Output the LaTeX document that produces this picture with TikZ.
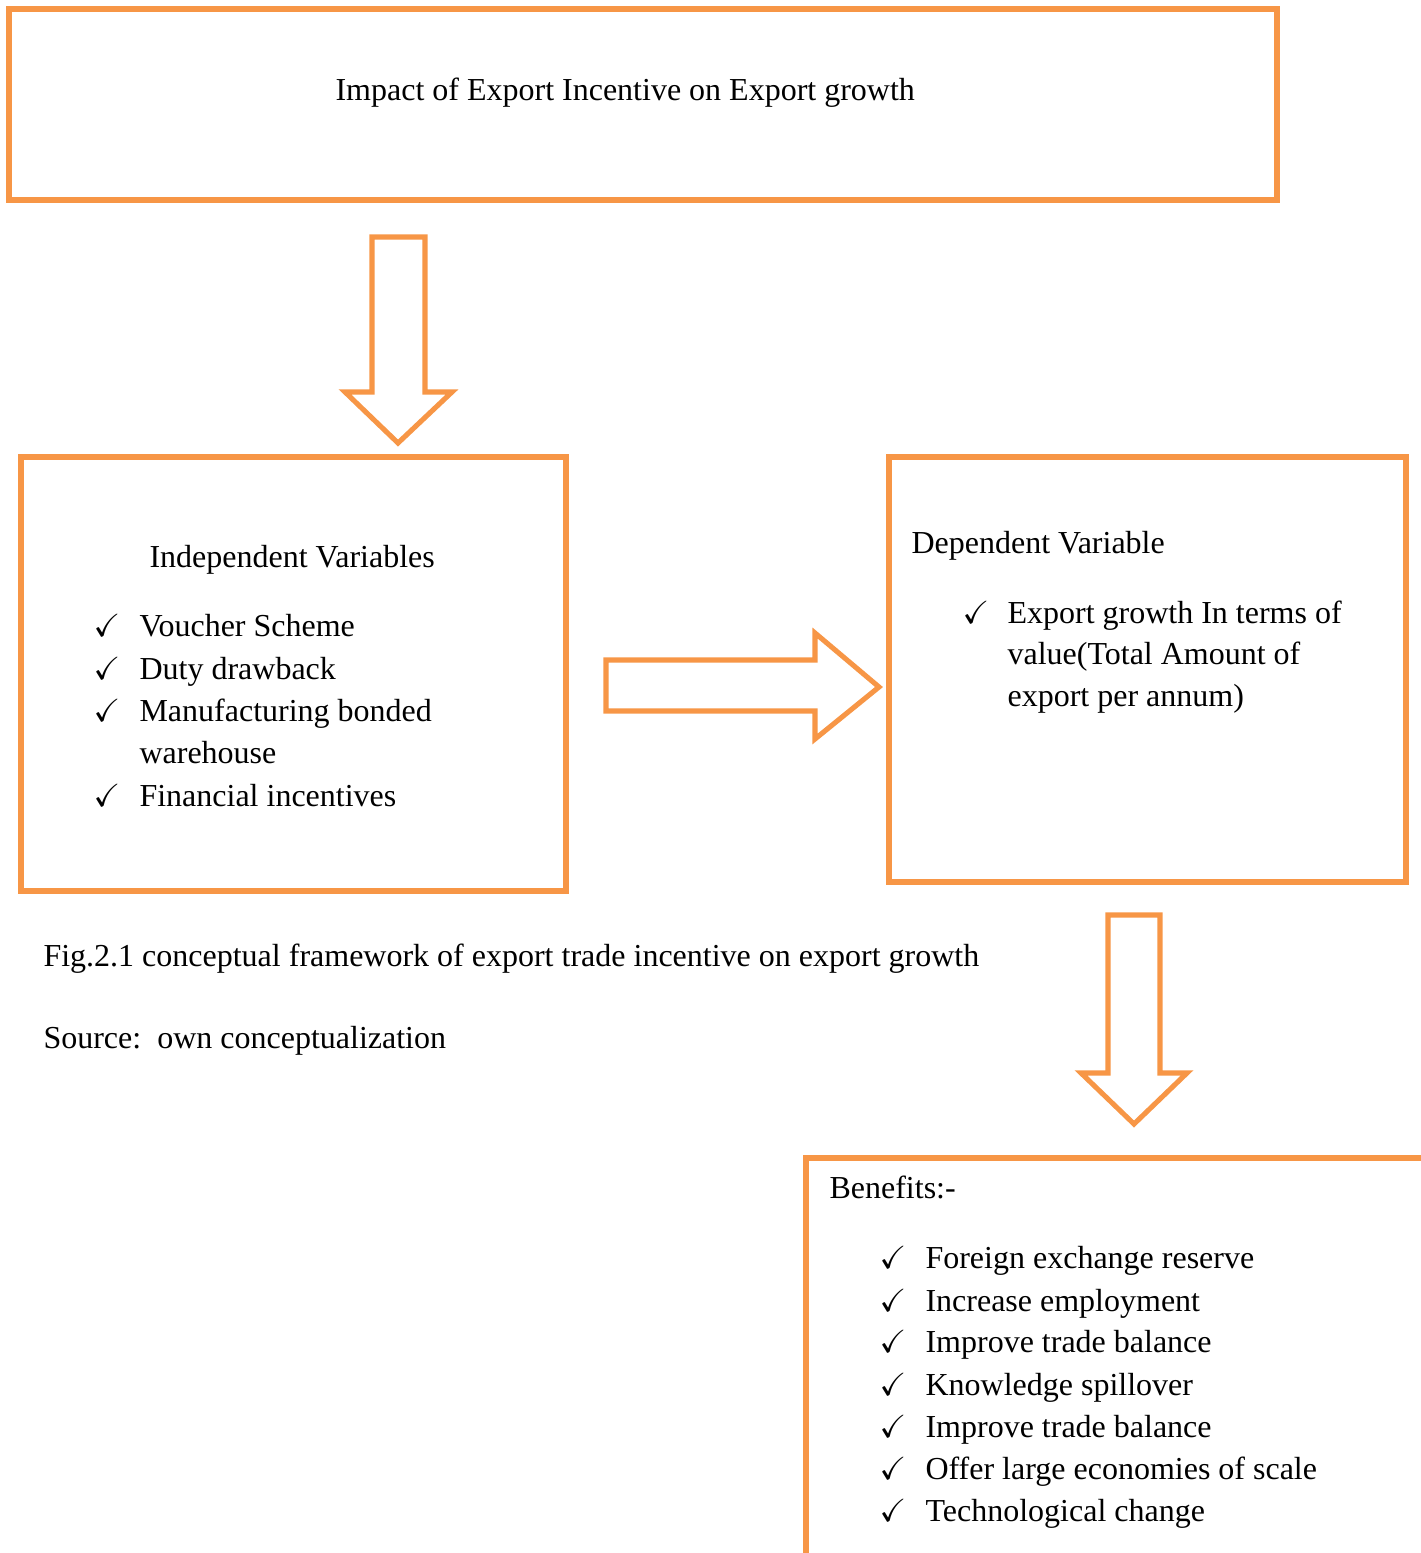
\documentclass[tikz,border=0pt]{standalone}
\usepackage{amssymb}
\usepackage{fontspec}
\setmainfont{Liberation Serif}
\usepackage{xcolor}
\usepackage{tikz}
\definecolor{exorange}{RGB}{247,150,70}

\begin{document}
\begin{tikzpicture}[
  x=0.375pt, y=-0.375pt,
  frame/.style={draw=exorange, line width=1.9pt},
  blockarrow/.style={draw=exorange, line width=1.9pt, fill=white, line join=miter},
  txt/.style={anchor=base west, inner sep=0pt, font=\fontsize{12}{15.75}\selectfont},
  chk/.style={txt}
]
\useasboundingbox (0,0) rectangle (1421,1553);
\clip (0,0) rectangle (1421,1553);

% Title box
\draw[frame] (9,9) rectangle (1277,200);
\node[txt] (title) at (335,100) {Impact of Export Incentive on Export growth};

% Arrow title -> independent
\draw[blockarrow] (372,237) -- (425,237) -- (425,392) -- (452,392)
  -- (398,443) -- (345,392) -- (372,392) -- cycle;

% Independent variables
\draw[frame] (21,457) rectangle (566,891);
\node[txt] (ivhead) at (149,567) {Independent Variables};
\foreach \y/\t in {636/Voucher Scheme, 679/Duty drawback,
                   721/Manufacturing bonded, 806/Financial incentives}{
  \node[chk] (ivchk\y) at (93,\y) {$\checkmark$};
  \node[txt] (iv\y) at (139,\y) {\t};
}
\node[txt] (iv763) at (139,763) {warehouse};

% Arrow independent -> dependent
\draw[blockarrow] (606,660) -- (815,660) -- (815,633) -- (879,687)
  -- (815,739) -- (815,711) -- (606,711) -- cycle;

% Dependent variable
\draw[frame] (889,457) rectangle (1406,882);
\node[txt] (dvhead) at (911,553) {Dependent Variable};
\node[chk] (dvchk) at (962,623) {$\checkmark$};
\foreach \y/\t in {623/Export growth In terms of, 664/value(Total Amount of,
                   706/export per annum)}{
  \node[txt] (dv\y) at (1007,\y) {\t};
}

% Caption
\node[txt] (caption) at (43,966)
  {Fig.2.1 conceptual framework of export trade incentive on export growth};
\node[txt] (source) at (43,1048) {Source:\ \ own conceptualization};

% Arrow dependent -> benefits
\draw[blockarrow] (1108,915) -- (1160,915) -- (1160,1073) -- (1187,1073)
  -- (1134,1124) -- (1081,1073) -- (1108,1073) -- cycle;

% Benefits
\draw[frame] (806,1158) rectangle (1460,1620);
\node[txt] (benhead) at (829,1198) {Benefits:-};
\foreach \y/\t in {1268/Foreign exchange reserve, 1311/Increase employment,
                   1352/Improve trade balance, 1395/Knowledge spillover,
                   1437/Improve trade balance, 1479/Offer large economies of scale,
                   1521/Technological change}{
  \node[chk] (benchk\y) at (879,\y) {$\checkmark$};
  \node[txt] (ben\y) at (925,\y) {\t};
}
\end{tikzpicture}
\end{document}
